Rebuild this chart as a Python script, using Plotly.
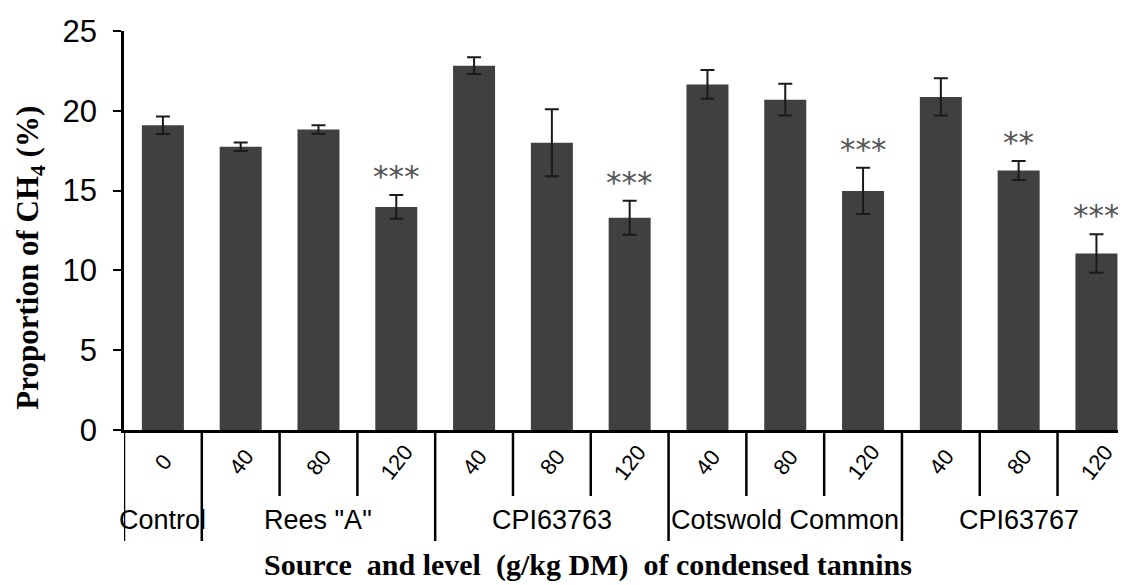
import plotly.graph_objects as go

# ---- data ----
levels = ["0", "40", "80", "120", "40", "80", "120", "40", "80", "120", "40", "80", "120"]
ch4_pct = [19.1, 17.75, 18.83, 13.98, 22.83, 18.0, 13.3, 21.65, 20.7, 14.98, 20.87, 16.26, 11.06]
ch4_se = [0.55, 0.27, 0.27, 0.74, 0.53, 2.1, 1.07, 0.9, 1.0, 1.45, 1.17, 0.6, 1.2]
signif = ["", "", "", "***", "", "", "***", "", "", "***", "", "**", "***"]
groups = ["Control", 'Rees "A"', "CPI63763", "Cotswold Common", "CPI63767"]
group_sizes = [1, 3, 3, 3, 3]
y_ticks = [0, 5, 10, 15, 20, 25]

SANS = "Liberation Sans, Arial, sans-serif"
SERIF = "Liberation Serif, Times New Roman, serif"

x_idx = list(range(len(levels)))

fig = go.Figure()
fig.add_trace(go.Bar(
    x=x_idx, y=ch4_pct,
    marker=dict(color="#404040", line=dict(width=0)),
    width=0.54,
    error_y=dict(type="data", array=ch4_se, visible=True,
                 color="#1a1a1a", thickness=2, width=7),
    showlegend=False,
))

annotations = []
shapes = []

# significance stars
for i, s in enumerate(signif):
    if s:
        annotations.append(dict(
            x=i, y=ch4_pct[i] + ch4_se[i], xref="x", yref="y",
            text=s, showarrow=False, yanchor="middle", yshift=19,
            font=dict(family="DejaVu Sans", size=31, color="#555555"),
        ))

# rotated level labels
for i, lab in enumerate(levels):
    annotations.append(dict(
        x=i, y=0, xref="x", yref="paper", text=lab, showarrow=False,
        textangle=-52, yanchor="middle", xanchor="center", yshift=-32,
        font=dict(family=SANS, size=22, color="black"),
    ))

# group labels and dividers
start = 0
long_bounds = [0]
for g, n in zip(groups, group_sizes):
    center = start + (n - 1) / 2
    annotations.append(dict(
        x=center, y=0, xref="x", yref="paper", text=g, showarrow=False,
        yanchor="middle", xanchor="center", yshift=-90,
        font=dict(family=SANS, size=27, color="black"),
    ))
    start += n
    long_bounds.append(start)

for b in range(len(levels) + 1):
    length = -111 if b in long_bounds else -66
    shapes.append(dict(
        type="line", xref="x", yref="paper", x0=b - 0.5, x1=b - 0.5,
        ysizemode="pixel", yanchor=0, y0=0, y1=length,
        line=dict(color="black", width=2.5),
    ))

# axis titles
annotations.append(dict(
    x=0.463, y=0, xref="paper", yref="paper",
    text="<b>Source  and level  (g/kg DM)  of condensed tannins</b>",
    showarrow=False, yanchor="middle", xanchor="center", yshift=-135,
    font=dict(family=SERIF, size=30, color="black"),
))
annotations.append(dict(
    x=0, y=0.432, xref="paper", yref="paper",
    text="<b>Proportion of CH<sub>4</sub> (%)</b>",
    showarrow=False, textangle=-90, xanchor="center", yanchor="middle",
    xshift=-94,
    font=dict(family=SERIF, size=31, color="black"),
))

# the page body adds an 8px margin, so the figure is sized to fit inside it
fig.update_layout(
    width=1118, height=577,
    margin=dict(l=116, r=0, t=23, b=155),
    paper_bgcolor="white", plot_bgcolor="white",
    annotations=annotations, shapes=shapes,
    xaxis=dict(
        range=[-0.5, 12.38], showticklabels=False, ticks="",
        showgrid=False, zeroline=False, automargin=False,
        showline=True, linecolor="black", linewidth=2.5,
    ),
    yaxis=dict(
        range=[0, 25], tickvals=y_ticks, ticks="outside", ticklen=8,
        tickwidth=2, tickcolor="black", showgrid=False, zeroline=False,
        showline=True, linecolor="black", linewidth=2.5, automargin=False,
        tickfont=dict(family=SANS, size=31, color="black"),
        ticklabelstandoff=10,
    ),
)

fig.write_html("out.html")
